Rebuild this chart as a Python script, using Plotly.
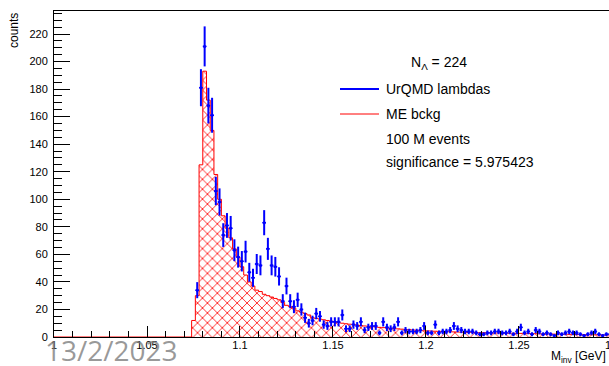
import numpy as np
import plotly.graph_objects as go

# ---------------- data ----------------
bin_w = 0.002
x_min, x_max = 1.0, 1.2984
y_max = 236.7

blue_start = 1.076
blue_counts = [34, 181, 211, 168, 161, 106, 98, 74, 81, 79,
               63, 58, 55, 62, 47, 43, 53, 52, 83, 64,
               52, 51, 44, 26, 37, 26, 22, 27, 20, 14,
               10, 12, 17, 15, 9, 8, 11, 11, 11, 16,
               6, 6, 9, 8, 11, 5, 7, 8, 8, 3,
               11, 7, 6, 7, 11, 3, 5, 4, 4, 4,
               5, 8, 3, 3, 9, 3, 4, 4, 5, 8,
               6, 5, 4, 4, 4, 3, 2, 2, 3, 3,
               4, 4, 3, 3, 4, 2, 4, 7, 3, 4,
               2, 5, 4, 2, 3, 2, 1, 3, 2, 3,
               4, 3, 3, 2, 1, 2, 3, 4, 2, 1,
               2, 2]

red_start = 1.074
red_counts = [12, 30, 125, 193, 172, 150, 118, 100, 88, 79,
              72, 64, 58, 51, 45, 40, 37, 34, 33, 31,
              30, 29, 28, 27, 25, 23, 22, 21, 19, 18,
              17, 16, 14, 13.5, 13, 12.5, 12, 11.5, 11, 10.5,
              10, 9.6, 9.3, 9, 8.7, 8.3, 8, 7.8, 7.5, 7.3,
              7, 6.8, 6.5, 6.3, 6.1, 5.9, 5.7, 5.5, 5.3, 5.1,
              4.9, 4.7, 4.5, 4.4, 4.3, 4.2, 4.1, 4.0, 3.9, 3.8,
              3.7, 3.6, 3.5, 3.4, 3.3, 3.3, 3.2, 3.1, 3.1, 3.0,
              3.0, 2.9, 2.9, 2.8, 2.8, 2.7, 2.7, 2.6, 2.6, 2.5,
              2.5, 2.4, 2.4, 2.3, 2.3, 2.2, 2.2, 2.1, 2.1, 2.0,
              2.0, 1.9, 1.9, 1.8, 1.8, 1.7, 1.7, 1.6, 1.6, 1.6,
              1.5, 1.5, 1.4]

x_ticks_extra = "1.3"
legend_lines = ["N<sub>Λ</sub> = 224", "UrQMD lambdas", "ME bckg",
                "100 M events", "significance = 5.975423"]
date_text = "13/2/2023"

# ---------------- derived ----------------
blue_x = [blue_start + bin_w * (i + 0.5) for i in range(len(blue_counts))]
blue_err = [float(np.sqrt(c)) for c in blue_counts]
red_edges = [red_start + bin_w * i for i in range(len(red_counts) + 1)]
red_x = [x_min] + red_edges
red_y = [0] + red_counts + [red_counts[-1]]

W, H = 609, 366
L, R, T, B = 54, 0, 11, 29
PW, PH = W - L - R, H - T - B


def px(x):
    return (x - L) / PW


def py(y):
    return (H - B - y) / PH


FONT = "Liberation Sans, Arial, Helvetica, sans-serif"

fig = go.Figure()
fig.add_trace(go.Scatter(
    x=red_x, y=red_y, mode="lines", line=dict(color="red", width=1, shape="hv"),
    fill="tozeroy",
    fillpattern=dict(shape="x", size=7, solidity=0.25, fgcolor="red",
                     fgopacity=0.85, bgcolor="white"),
    hoverinfo="skip"))
fig.add_trace(go.Scatter(
    x=blue_x, y=blue_counts, mode="markers",
    marker=dict(color="blue", size=3),
    error_y=dict(type="data", array=blue_err, color="blue", thickness=2, width=0),
    error_x=dict(type="constant", value=bin_w / 2, color="blue", thickness=1.5, width=0)))

fig.update_layout(
    width=W, height=H, margin=dict(l=L, r=R, t=T, b=B, pad=0),
    paper_bgcolor="white", plot_bgcolor="white", showlegend=False,
    font=dict(family=FONT, size=11, color="black"),
    xaxis=dict(range=[x_min, x_max], tick0=1.0, dtick=0.05, ticks="inside",
               ticklen=11, tickcolor="black", showline=True, linecolor="black",
               linewidth=1, mirror=True, showgrid=False, zeroline=False,
               tickfont=dict(size=11, family=FONT), ticklabelstandoff=-2,
               minor=dict(dtick=0.01, ticklen=6, ticks="inside", tickcolor="black",
                          showgrid=False)),
    yaxis=dict(range=[0, y_max], tick0=0, dtick=20, ticks="inside", ticklen=16,
               tickcolor="black", showline=True, linecolor="black", linewidth=1,
               mirror=False, showgrid=False, zeroline=False,
               tickfont=dict(size=11, family=FONT), ticklabelstandoff=3,
               minor=dict(dtick=5, ticklen=8, ticks="inside", tickcolor="black",
                          showgrid=False)),
)

ann = []
# cut-off tick label at right edge
ann.append(dict(text=x_ticks_extra, xref="paper", yref="paper", x=px(612), y=py(345),
                xanchor="center", yanchor="middle", showarrow=False,
                font=dict(size=11, family=FONT, color="black")))
# axis titles
ann.append(dict(text="counts", xref="paper", yref="paper", x=px(14), y=py(31),
                xanchor="center", yanchor="middle", textangle=-90, showarrow=False,
                font=dict(size=12, family=FONT, color="black")))
ann.append(dict(text="M<sub>inv</sub> [GeV]", xref="paper", yref="paper", x=px(608),
                y=py(357), xanchor="right", yanchor="middle", showarrow=False,
                font=dict(size=12, family=FONT, color="black")))
# legend texts
leg_y = [63, 89, 114, 139, 162]
leg_x = [409, 384, 384, 384, 384]
for t, yy, xx in zip(legend_lines, leg_y, leg_x):
    ann.append(dict(text=t, xref="paper", yref="paper", x=px(xx), y=py(yy),
                    xanchor="left", yanchor="middle", showarrow=False,
                    font=dict(size=14, family=FONT, color="black")))
# date watermark
ann.append(dict(text=date_text, xref="paper", yref="paper", x=px(43), y=py(350),
                xanchor="left", yanchor="middle", showarrow=False,
                font=dict(size=28, family="Open Sans, sans-serif",
                          color="rgba(120,120,120,0.75)")))
fig.update_layout(annotations=ann)

fig.add_shape(type="line", xref="paper", yref="paper", x0=px(340), x1=px(379),
              y0=py(89), y1=py(89), line=dict(color="blue", width=2))
fig.add_shape(type="line", xref="paper", yref="paper", x0=px(340), x1=px(379),
              y0=py(114), y1=py(114), line=dict(color="red", width=1))

fig.write_html("out.html")
